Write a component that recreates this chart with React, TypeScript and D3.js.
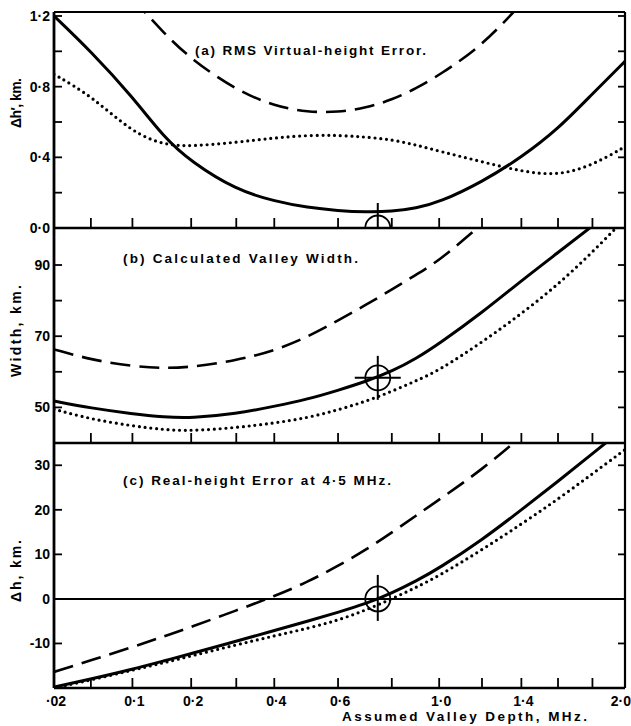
import React from "react";
import * as d3 from "d3";

const W = 631;
const H = 726;
const FONT = "'Liberation Sans', 'DejaVu Sans', sans-serif";

// assumed valley depth, MHz (sampling grid shared by all curves)
const depth = [0.02, 0.05, 0.1, 0.15, 0.2, 0.3, 0.4, 0.5, 0.6, 0.7, 0.8, 0.9, 1.0, 1.2, 1.4, 1.6, 1.8, 2.0];

// (a) RMS virtual-height error, km
const rmsSolid = [1.2, 1.0, 0.743, 0.51, 0.375, 0.215, 0.152, 0.115, 0.098, 0.09, 0.093, 0.112, 0.145, 0.26, 0.4, 0.56, 0.76, 0.943];
const rmsDashed = [NaN, NaN, 1.3, 1.1, 0.955, 0.78, 0.69, 0.655, 0.655, 0.68, 0.725, 0.79, 0.865, 1.03, 1.27, NaN, NaN, NaN];
const rmsDotted = [0.87, 0.75, 0.54, 0.47, 0.462, 0.485, 0.51, 0.525, 0.525, 0.515, 0.5, 0.47, 0.435, 0.375, 0.32, 0.296, 0.355, 0.46];

// (b) calculated valley width, km
const widthSolid = [51.8, 49.8, 48.2, 47.3, 47.0, 48.2, 50.3, 52.3, 54.8, 57.3, 60.1, 63.7, 67.9, 76.6, 85.6, 93.5, 101, 108];
const widthDashed = [66.3, 63.4, 61.5, 61.0, 61.3, 63.2, 65.9, 69.8, 74.4, 78.8, 83.1, 87.3, 91.2, 101.5, NaN, NaN, NaN, NaN];
const widthDotted = [49.5, 46.7, 44.8, 43.7, 43.4, 44.3, 45.6, 47.1, 49.3, 51.7, 54.5, 57.5, 60.4, 68.3, 76.3, 84.5, 93.6, 103];

// (c) real-height error at 4.5 MHz, km
const realSolid = [-19.8, -18.0, -15.8, -13.9, -12.3, -9.5, -7.1, -5.0, -3.0, -1.1, 1.3, 4.0, 6.9, 13.2, 20.0, 26.4, 32.6, 38.5];
const realDashed = [-16.4, -13.8, -10.8, -8.4, -6.3, -2.6, 0.6, 3.8, 7.4, 11.0, 14.9, 18.7, 22.3, 29.0, 36.5, NaN, NaN, NaN];
const realDotted = [-20.0, -18.2, -16.0, -14.3, -12.8, -10.3, -8.3, -6.6, -4.8, -2.5, 0.0, 2.6, 5.2, 11.0, 16.8, 22.4, 28.1, 33.5];

const depthTicks = [0.02, 0.05, 0.1, 0.2, 0.3, 0.4, 0.6, 0.8, 1.0, 1.2, 1.4, 1.6, 1.8, 2.0];
const depthLabelValues = [0.02, 0.1, 0.2, 0.4, 0.6, 1.0, 1.4, 2.0];
const depthLabelText = ["·02", "0·1", "0·2", "0·4", "0·6", "1·0", "1·4", "2·0"];

const chosenDepth = 0.745;
const chosenWidth = 58.3;

const x = d3.scaleSqrt().domain([0.02, 2.0]).range([54, 625]);

const panels = [
  {
    id: "a", top: 12, bottom: 228, domain: [0, 1.2226],
    ticks: [0, 0.2, 0.4, 0.6, 0.8, 1.0, 1.2],
    labelValues: [0, 0.4, 0.8, 1.2], labelText: ["0·0", "0·4", "0·8", "1·2"],
    series: [rmsSolid, rmsDashed, rmsDotted],
    title: "(a) RMS Virtual-height Error.", titleX: 195, titleY: 55, titleLen: 231,
    ylabel: "Δh′, km.", ylabelY: 103, ylabelLen: 50,
  },
  {
    id: "b", top: 228, bottom: 443, domain: [40, 100.4],
    ticks: [50, 60, 70, 80, 90],
    labelValues: [50, 70, 90], labelText: ["50", "70", "90"],
    series: [widthSolid, widthDashed, widthDotted],
    title: "(b) Calculated Valley Width.", titleX: 123, titleY: 263, titleLen: 235,
    ylabel: "Width, km.", ylabelY: 331, ylabelLen: 92,
  },
  {
    id: "c", top: 443, bottom: 688, domain: [-20, 35],
    ticks: [-10, 0, 10, 20, 30],
    labelValues: [-10, 0, 10, 20, 30], labelText: ["-10", "0", "10", "20", "30"],
    series: [realSolid, realDashed, realDotted],
    title: "(c) Real-height Error at 4·5 MHz.", titleX: 123, titleY: 485, titleLen: 268,
    ylabel: "Δh, km.", ylabelY: 571, ylabelLen: 62,
  },
];

const styles = [
  { strokeWidth: 3, dash: undefined, cap: "butt" },
  { strokeWidth: 2.6, dash: "20 9", cap: "butt" },
  { strokeWidth: 3.2, dash: "0 5.8", cap: "round" },
];

const Crosshair = ({ cx, cy, arms, clip }) => (
  <g stroke="#000" fill="none" clipPath={clip}>
    <circle cx={cx} cy={cy} r={12.5} strokeWidth={1.8} />
    {arms.v && <line x1={cx} x2={cx} y1={cy - arms.v[0]} y2={cy + arms.v[1]} strokeWidth={2} />}
    {arms.h && <line x1={cx - arms.h} x2={cx + arms.h} y1={cy} y2={cy} strokeWidth={2} />}
  </g>
);

export default function App() {
  const left = x.range()[0];
  const right = x.range()[1];
  return (
    <svg width={W} height={H} style={{ position: "absolute", left: 0, top: 0, background: "#fff" }}>
      <rect width={W} height={H} fill="#fff" />
      {panels.map((p) => {
        const y = d3.scaleLinear().domain(p.domain).range([p.bottom, p.top]);
        const line = d3
          .line<number>()
          .defined((d) => !isNaN(d))
          .x((_, i) => x(depth[i]))
          .y((d) => y(d))
          .curve(d3.curveBasis);
        const clipId = `clip-${p.id}`;
        return (
          <g key={p.id}>
            <defs>
              <clipPath id={clipId}>
                <rect x={left} y={p.top} width={right - left} height={p.bottom - p.top} />
              </clipPath>
            </defs>
            {/* bottom axis ticks (inward) */}
            {depthTicks.map((t) => (
              <line key={t} x1={x(t)} x2={x(t)} y1={p.bottom} y2={p.bottom - 10} stroke="#000" strokeWidth={1.8} />
            ))}
            {/* left and right ticks (inward) */}
            {p.ticks.map((t) => (
              <g key={t} stroke="#000" strokeWidth={1.8}>
                <line x1={left} x2={left + 8} y1={y(t)} y2={y(t)} />
                <line x1={right} x2={right - 7} y1={y(t)} y2={y(t)} />
              </g>
            ))}
            {p.labelValues.map((t, i) => (
              <text key={t} x={50} y={y(t)} textAnchor="end" dominantBaseline="central"
                fontFamily={FONT} fontWeight="bold" fontSize={14}>
                {p.labelText[i]}
              </text>
            ))}
            {p.id === "c" && (
              <line x1={left} x2={right} y1={y(0)} y2={y(0)} stroke="#000" strokeWidth={2} />
            )}
            <g clipPath={`url(#${clipId})`} fill="none" stroke="#000">
              {p.series.map((s, i) => (
                <path key={i} d={line(s) || ""} strokeWidth={styles[i].strokeWidth}
                  strokeDasharray={styles[i].dash} strokeLinecap={styles[i].cap as any} />
              ))}
            </g>
            {p.id === "a" && (
              <Crosshair cx={x(chosenDepth)} cy={y(0)} arms={{ v: [25, 0] }} clip={`url(#${clipId})`} />
            )}
            {p.id === "b" && (
              <Crosshair cx={x(chosenDepth)} cy={y(chosenWidth)} arms={{ v: [22, 22], h: 23 }} />
            )}
            {p.id === "c" && (
              <Crosshair cx={x(chosenDepth)} cy={y(0)} arms={{ v: [24, 22] }} />
            )}
            <text x={p.titleX} y={p.titleY} fontFamily={FONT} fontWeight="bold" fontSize={13.5}
              textLength={p.titleLen} lengthAdjust="spacing">
              {p.title}
            </text>
            <text transform={`translate(16,${p.ylabelY}) rotate(-90)`} textAnchor="middle"
              dominantBaseline="central" fontFamily={FONT} fontWeight="bold" fontSize={14}
              textLength={p.ylabelLen} lengthAdjust="spacing">
              {p.ylabel}
            </text>
            <line x1={left} x2={right} y1={p.bottom} y2={p.bottom} stroke="#000" strokeWidth={2.6} />
          </g>
        );
      })}
      {/* frame */}
      <line x1={left} x2={right} y1={12} y2={12} stroke="#000" strokeWidth={2.2} />
      <line x1={left} x2={left} y1={12} y2={688} stroke="#000" strokeWidth={2.8} />
      <line x1={right} x2={right} y1={12} y2={688} stroke="#000" strokeWidth={2.2} />
      {depthLabelValues.map((v, i) => {
        const last = i === depthLabelValues.length - 1;
        return (
          <text key={v} x={last ? 631 : x(v) + 2} y={701} textAnchor={last ? "end" : "middle"}
            dominantBaseline="central" fontFamily={FONT} fontWeight="bold" fontSize={14}>
            {depthLabelText[i]}
          </text>
        );
      })}
      <text x={342} y={721} fontFamily={FONT} fontWeight="bold" fontSize={13.5} textLength={245}
        lengthAdjust="spacing">
        Assumed Valley Depth, MHz.
      </text>
    </svg>
  );
}
